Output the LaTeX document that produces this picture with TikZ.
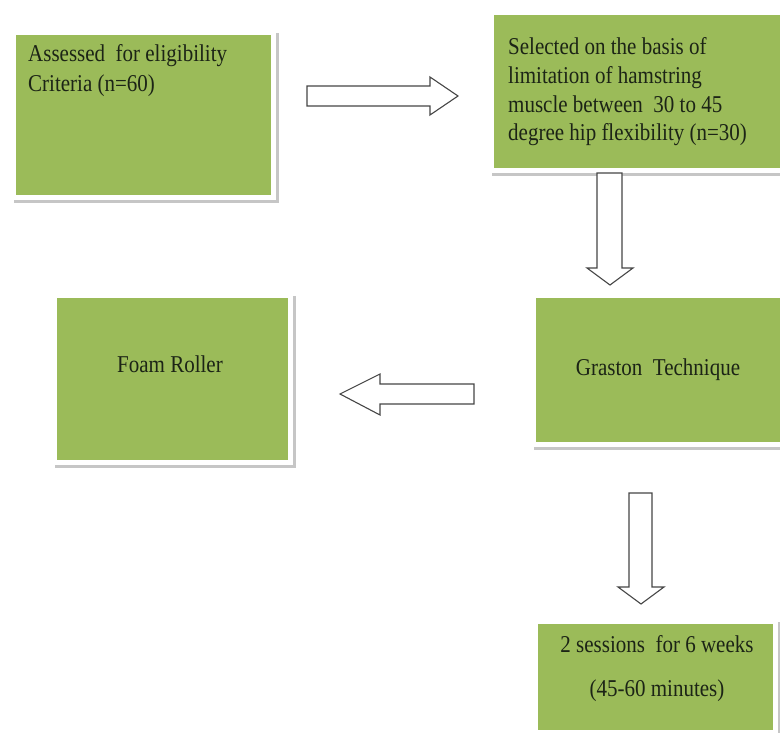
\documentclass[tikz,border=0pt]{standalone}
\usepackage{fontspec}
\usepackage{graphicx}
\setmainfont{Liberation Serif}
\definecolor{boxgreen}{RGB}{155,187,89}
\definecolor{txtc}{RGB}{28,36,22}
\definecolor{arrowc}{RGB}{70,70,70}
\newcommand{\boxtext}[2]{\scalebox{1}[1.15]{\fontsize{21}{#1}\selectfont\begin{tabular}[t]{@{}l@{}}#2\end{tabular}}}
\newcommand{\boxtextc}[2]{\scalebox{1}[1.15]{\fontsize{21}{#1}\selectfont\begin{tabular}[t]{@{}c@{}}#2\end{tabular}}}
\tikzset{
  greenbox/.style={rectangle, fill=boxgreen, inner sep=0pt, outer sep=0pt,
    preaction={draw=gray!45, line width=10pt, transform canvas={shift={(3pt,-3pt)}}},
    preaction={draw=white, line width=10pt}},
  boxlabel/.style={inner sep=0pt, text=txtc},
  blockarrow/.style={draw=arrowc, fill=white, line width=1.1pt, line join=miter}
}
\begin{document}
\begin{tikzpicture}[x=1pt,y=-1pt]
\useasboundingbox (0,0) rectangle (780,733);
\fill[white] (0,0) rectangle (780,733);
\begin{scope}
\clip (0,0) rectangle (780,733);
% boxes
\node[greenbox, minimum width=255pt, minimum height=160pt] (b1) at (143.5,115) {};
\node[greenbox, minimum width=300pt, minimum height=153pt] (b2) at (644,91.5) {};
\node[greenbox, minimum width=300pt, minimum height=144pt] (b3) at (686,370) {};
\node[greenbox, minimum width=231pt, minimum height=162pt] (b4) at (172.5,379) {};
\node[greenbox, minimum width=235pt, minimum height=106pt] (b5) at (655.5,677) {};
% labels
\node[boxlabel, anchor=base west] (t1) at (28,62) {\boxtext{26}{Assessed\ \ for eligibility\\Criteria (n=60)}};
\node[boxlabel, anchor=base west] (t2) at (508,55) {\boxtext{24.8}{Selected on the basis of\\limitation of hamstring\\muscle between\ \ 30 to 45\\degree hip flexibility (n=30)}};
\node[boxlabel, anchor=base] (t3) at (658,375) {\boxtext{26}{Graston\ \ Technique}};
\node[boxlabel, anchor=base] (t4) at (170,372) {\boxtext{26}{Foam Roller}};
\node[boxlabel, anchor=base] (t5) at (657,652) {\boxtextc{39}{2 sessions\ \ for 6 weeks\\(45-60 minutes)}};
% block arrows
\draw[blockarrow] (307,86) -- (430,86) -- (430,77) -- (458,96) -- (430,115) -- (430,106) -- (307,106) -- cycle;
\draw[blockarrow] (597,173) -- (622,173) -- (622,268) -- (633,268) -- (610,285) -- (587,268) -- (597,268) -- cycle;
\draw[blockarrow] (474,384) -- (380,384) -- (380,374) -- (340,394) -- (380,415) -- (380,404) -- (474,404) -- cycle;
\draw[blockarrow] (629,493) -- (652,493) -- (652,587) -- (664,587) -- (641,604) -- (618,587) -- (629,587) -- cycle;
\end{scope}
\end{tikzpicture}
\end{document}
